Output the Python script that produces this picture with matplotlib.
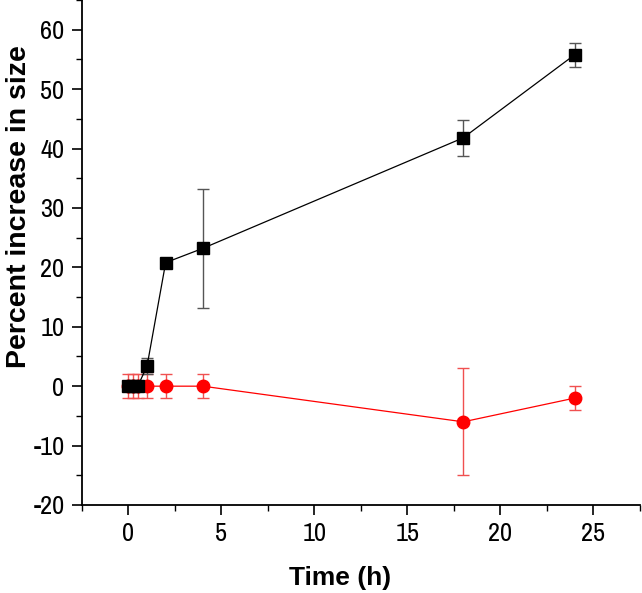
import numpy as np
import matplotlib.pyplot as plt
from matplotlib.ticker import MultipleLocator

# ── Data ──────────────────────────────────────────────────────────────
time_h = [0, 0.25, 0.5, 1, 2, 4, 18, 24]

black_vals = [0, 0, 0, 3.4, 20.8, 23.2, 41.8, 55.8]
black_err = [0.5, 0.5, 0.5, 1.4, 0.5, 10.0, 3.0, 2.0]

red_vals = [0, 0, 0, 0, 0, 0, -6.0, -2.0]
red_err = [2, 2, 2, 2, 2, 2, 9.0, 2.0]

# ── Figure ────────────────────────────────────────────────────────────
plt.rcParams["font.family"] = ["Archivo Narrow", "DejaVu Sans"]
plt.rcParams["axes.unicode_minus"] = False
label_font = ["Liberation Sans", "DejaVu Sans"]

fig = plt.figure(figsize=(6.42, 5.93), dpi=100)
ax = fig.add_axes([0.1277, 0.1484, 0.869, 0.8516])

ax.errorbar(time_h, red_vals, yerr=red_err, color="#ff0000", ecolor="#f05050",
            marker="o", markersize=9, linewidth=0.9, elinewidth=1.0,
            capsize=4, capthick=1.0, zorder=3)
ax.errorbar(time_h, black_vals, yerr=black_err, color="black", ecolor="#555555",
            marker="s", markersize=8, linewidth=0.9, elinewidth=1.0,
            capsize=4, capthick=1.0, zorder=4)

ax.set_xlim(-2.5, 27.5)
ax.set_ylim(-20, 65)
ax.xaxis.set_major_locator(MultipleLocator(5))
ax.xaxis.set_minor_locator(MultipleLocator(2.5))
ax.yaxis.set_major_locator(MultipleLocator(10))
ax.yaxis.set_minor_locator(MultipleLocator(5))

ax.spines["top"].set_visible(False)
ax.spines["right"].set_visible(False)
ax.spines["left"].set_linewidth(1.3)
ax.spines["bottom"].set_linewidth(1.3)
ax.tick_params(which="major", direction="out", length=7.5, width=1.2, labelsize=19, pad=5)
ax.tick_params(which="minor", direction="out", length=4.5, width=1.0)

ax.set_xlabel("Time (h)", fontsize=19, fontweight="bold", family=label_font)
ax.set_ylabel("Percent increase in size", fontsize=20.5, fontweight="bold", family=label_font)
ax.xaxis.set_label_coords(0.462, -0.121)
ax.yaxis.set_label_coords(-0.09, 0.59)

fig.savefig("out.png", dpi=100)
